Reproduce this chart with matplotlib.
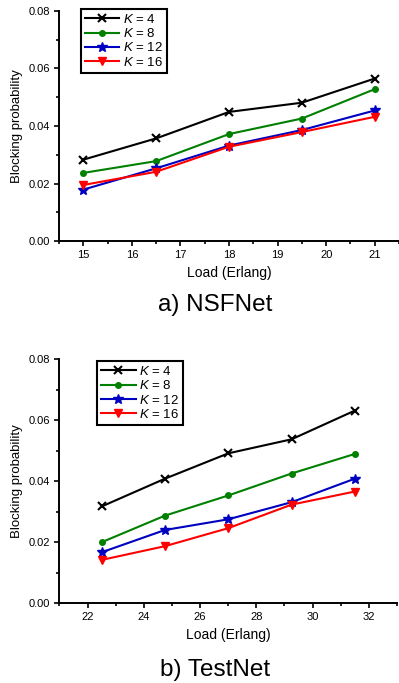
import numpy as np
import matplotlib
matplotlib.use("Agg")
import matplotlib.pyplot as plt
from matplotlib.ticker import MultipleLocator, FormatStrFormatter

plt.rcParams['font.family'] = ['Liberation Sans', 'DejaVu Sans']
plt.rcParams['mathtext.fontset'] = 'custom'
plt.rcParams['mathtext.it'] = 'Liberation Sans:italic'
plt.rcParams['mathtext.rm'] = 'Liberation Sans'

# NSFNet data
nsf_load = [15, 16.5, 18, 19.5, 21]
nsf_k4 = [0.0283, 0.0357, 0.0449, 0.0481, 0.0565]
nsf_k8 = [0.0237, 0.0278, 0.0372, 0.0426, 0.0528]
nsf_k12 = [0.0179, 0.0253, 0.0332, 0.0386, 0.0454]
nsf_k16 = [0.0195, 0.0241, 0.0328, 0.0379, 0.0432]

# TestNet data
test_load = [22.5, 24.75, 27, 29.25, 31.5]
test_k4 = [0.0317, 0.0408, 0.0491, 0.0537, 0.0631]
test_k8 = [0.0200, 0.0287, 0.0353, 0.0425, 0.0489]
test_k12 = [0.0167, 0.0240, 0.0275, 0.0331, 0.0408]
test_k16 = [0.0142, 0.0187, 0.0246, 0.0323, 0.0366]

labels = ['$K$ = 4', '$K$ = 8', '$K$ = 12', '$K$ = 16']
colors = ['black', '#008000', '#0000c0', '#ff0000']
markers = ['x', 'o', '*', 'v']
msizes = [6, 4, 7, 6]

fig = plt.figure(figsize=(3.99, 6.83), dpi=100)
ax1 = fig.add_axes([0.148, 0.647, 0.852, 0.337])
ax2 = fig.add_axes([0.149, 0.1167, 0.846, 0.3577])

def style_axis(ax, xlim, xmaj, xmin):
    for s in ['top', 'right']:
        ax.spines[s].set_visible(False)
    for s in ['left', 'bottom']:
        ax.spines[s].set_linewidth(1.4)
    ax.set_xlim(*xlim)
    ax.set_ylim(0, 0.08)
    ax.xaxis.set_major_locator(MultipleLocator(xmaj))
    ax.xaxis.set_minor_locator(MultipleLocator(xmin))
    ax.yaxis.set_major_locator(MultipleLocator(0.02))
    ax.yaxis.set_minor_locator(MultipleLocator(0.01))
    ax.yaxis.set_major_formatter(FormatStrFormatter('%.2f'))
    ax.tick_params(which='major', length=3.5, width=1.2, labelsize=8, pad=3)
    ax.tick_params(which='minor', length=2, width=1.2)
    ax.set_xlabel('Load (Erlang)', fontsize=10, labelpad=4)
    ax.set_ylabel('Blocking probability', fontsize=9.5, labelpad=4)

def draw(ax, x, series, anchor):
    for y, lab, c, m, ms in zip(series, labels, colors, markers, msizes):
        ax.plot(x, y, color=c, marker=m, markersize=ms, linewidth=1.5,
                markeredgewidth=1.5 if m == 'x' else 1, label=lab)
    leg = ax.legend(loc='upper left', bbox_to_anchor=anchor, fontsize=9.5,
                    frameon=True, fancybox=False, framealpha=1, edgecolor='black',
                    handlelength=2.6, labelspacing=0.1, borderpad=0.3,
                    handletextpad=0.3, borderaxespad=0)
    leg.get_frame().set_linewidth(1.5)

draw(ax1, nsf_load, [nsf_k4, nsf_k8, nsf_k12, nsf_k16], (0.065, 1.009))
style_axis(ax1, (14.5, 21.5), 1, 0.5)

draw(ax2, test_load, [test_k4, test_k8, test_k12, test_k16], (0.112, 0.992))
style_axis(ax2, (21, 33), 2, 1)

fig.text(215 / 399, 1 - 305 / 683, 'a) NSFNet', fontsize=17.5, ha='center', va='center')
fig.text(215 / 399, 1 - 670 / 683, 'b) TestNet', fontsize=17.5, ha='center', va='center')

fig.savefig('out.png', dpi=100)
